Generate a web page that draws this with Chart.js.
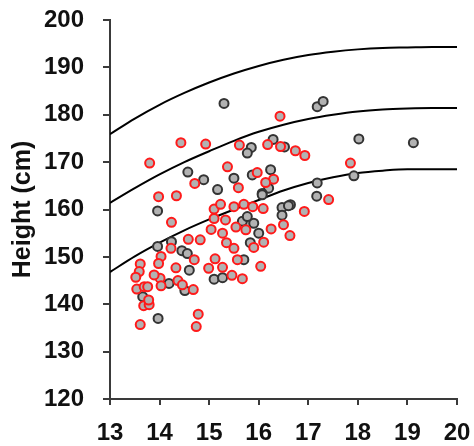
<!DOCTYPE html>
<html>
<head>
<meta charset="utf-8">
<script src="https://cdn.jsdelivr.net/npm/chart.js@4/dist/chart.umd.min.js"></script>
<style>
  html, body { margin: 0; padding: 0; background: #fff; }
  #wrap { width: 474px; height: 446px; }
</style>
</head>
<body>
<div id="wrap"><canvas id="c" width="474" height="446"></canvas></div>
<script>
// Age (years) on x, height (cm) on y
const ageTicks = [13, 14, 15, 16, 17, 18, 19, 20];
const heightTicks = [120, 130, 140, 150, 160, 170, 180, 190, 200];

// Reference growth curves
const curveAge = [13, 13.5, 14, 14.5, 15, 15.5, 16, 16.5, 17, 17.5, 18, 18.5, 19, 19.5, 20];
const curveUpper = [175.9, 179.2, 182.1, 184.6, 186.8, 188.7, 190.3, 191.6, 192.6, 193.3, 193.8, 194.1, 194.2, 194.3, 194.3];
const curveMiddle = [161.4, 164.5, 167.4, 170.0, 172.3, 174.5, 176.4, 177.9, 179.1, 180.0, 180.7, 181.1, 181.3, 181.4, 181.4];
const curveLower = [146.8, 150.1, 153.0, 155.6, 157.9, 160.0, 162.0, 164.0, 165.6, 166.8, 167.7, 168.2, 168.5, 168.5, 168.5];

// Group A (dark outline)
const grayAge = [15.30, 17.18, 17.30, 15.85, 15.77, 16.29, 16.52, 18.02, 19.12, 17.92,
  17.18, 14.57, 14.89, 15.50, 15.87, 16.24, 15.17, 16.20, 16.07, 17.17,
  16.64, 16.47, 16.60, 16.47, 13.96, 13.96, 14.24, 14.45, 14.56, 14.60,
  14.19, 14.51, 13.66, 13.97, 15.76, 15.67, 15.90, 16.00, 15.77, 15.70,
  15.10, 15.27, 16.07, 15.83];
const grayHeight = [182.4, 181.7, 182.8, 173.1, 171.9, 174.8, 173.2, 174.9, 174.1, 167.1,
  165.6, 167.9, 166.3, 166.6, 167.3, 168.4, 164.2, 164.5, 163.4, 162.8,
  161.0, 160.4, 160.8, 158.8, 159.7, 152.2, 153.2, 151.3, 150.7, 147.2,
  144.4, 142.9, 141.6, 137.0, 157.2, 157.5, 157.1, 155.0, 158.5, 149.4,
  145.3, 145.6, 163.1, 153.0];

// Group B (red outline)
const redAge = [16.43, 13.80, 14.43, 14.93, 15.61, 16.18, 16.44, 16.74, 16.93, 17.85,
  15.37, 15.97, 16.30, 16.14, 14.71, 15.59, 13.98, 14.34, 14.24, 17.41,
  16.92, 16.25, 16.50, 16.63, 16.10, 15.90, 16.04, 15.10, 15.10, 15.04,
  15.23, 15.27, 15.33, 15.50, 15.54, 15.70, 15.74, 15.88, 16.09, 15.35,
  15.50, 15.57, 15.12, 15.27, 14.99, 15.46, 15.67, 14.58, 14.82, 14.23,
  14.03, 14.70, 14.33, 13.98, 13.61, 13.59, 13.52, 13.54, 13.69, 13.68,
  13.79, 13.78, 13.61, 14.01, 14.03, 14.37, 14.46, 14.68, 14.78, 14.74,
  13.89, 13.76];
const redHeight = [179.7, 169.8, 174.1, 173.8, 173.6, 173.7, 173.3, 172.4, 171.4, 169.8,
  169.0, 167.8, 166.4, 165.7, 165.5, 164.6, 162.7, 162.9, 157.3, 162.1,
  159.6, 155.9, 156.8, 154.5, 153.1, 152.0, 148.0, 160.1, 158.1, 155.8,
  161.1, 155.0, 157.8, 160.6, 156.3, 161.1, 155.7, 160.6, 160.2, 153.0,
  151.8, 149.4, 149.6, 147.8, 147.6, 146.1, 145.4, 153.7, 153.6, 151.8,
  150.1, 149.4, 147.7, 148.6, 148.5, 146.9, 145.7, 143.2, 143.7, 139.7,
  139.9, 140.9, 135.7, 145.5, 143.9, 145.0, 144.1, 143.1, 137.9, 135.3,
  146.2, 143.7];

const toPoints = (xs, ys) => xs.map((x, i) => ({ x: x, y: ys[i] }));

const axisColor = '#3a3a3a';
const tickFont = { family: '"Liberation Sans", Arial, sans-serif', size: 24, weight: 'bold' };

// Keep the plot area fixed by the layout padding alone
const noEdgePadding = (s) => {
  s.paddingTop = 0; s.paddingBottom = 0; s.paddingLeft = 0; s.paddingRight = 0;
};

const pointStyle = (border) => ({
  type: 'scatter',
  showLine: false,
  pointRadius: 4.5,
  pointHoverRadius: 4.5,
  pointBorderWidth: 2,
  pointBackgroundColor: '#b2b2b2',
  pointBorderColor: border
});

const curveStyle = {
  type: 'line',
  borderColor: '#000',
  borderWidth: 2,
  pointRadius: 0,
  fill: false,
  cubicInterpolationMode: 'monotone'
};

new Chart(document.getElementById('c'), {
  data: {
    datasets: [
      Object.assign({ label: 'B', data: toPoints(redAge, redHeight) }, pointStyle('#ff1a1a')),
      Object.assign({ label: 'A', data: toPoints(grayAge, grayHeight) }, pointStyle('#333333')),
      Object.assign({ label: 'upper', data: toPoints(curveAge, curveUpper) }, curveStyle),
      Object.assign({ label: 'middle', data: toPoints(curveAge, curveMiddle) }, curveStyle),
      Object.assign({ label: 'lower', data: toPoints(curveAge, curveLower) }, curveStyle)
    ]
  },
  options: {
    responsive: false,
    animation: false,
    devicePixelRatio: 1,
    layout: { padding: { top: 20, right: 17, left: 8, bottom: 0 } },
    plugins: { legend: { display: false }, tooltip: { enabled: false } },
    scales: {
      x: {
        type: 'linear',
        min: ageTicks[0],
        max: ageTicks[ageTicks.length - 1],
        afterBuildTicks: (s) => { s.ticks = ageTicks.map(v => ({ value: v })); },
        afterFit: (s) => { s.height = 47; noEdgePadding(s); },
        border: { display: true, color: axisColor, width: 2 },
        grid: { drawOnChartArea: false, drawTicks: true, tickLength: 6, color: axisColor, lineWidth: 2 },
        ticks: { color: '#111', font: tickFont, padding: 14, maxRotation: 0 }
      },
      y: {
        type: 'linear',
        min: heightTicks[0],
        max: heightTicks[heightTicks.length - 1],
        afterBuildTicks: (s) => { s.ticks = heightTicks.map(v => ({ value: v })); },
        afterFit: (s) => { s.width = 102; noEdgePadding(s); },
        border: { display: true, color: axisColor, width: 2 },
        grid: { drawOnChartArea: false, drawTicks: true, tickLength: 7, color: axisColor, lineWidth: 2 },
        ticks: { color: '#111', font: tickFont, padding: 19 },
        title: {
          display: true,
          text: 'Height (cm)',
          color: '#111',
          font: { family: '"Liberation Sans", Arial, sans-serif', size: 25, weight: 'bold' },
          padding: { top: 0, bottom: 6 }
        }
      }
    }
  }
});
</script>
</body>
</html>
